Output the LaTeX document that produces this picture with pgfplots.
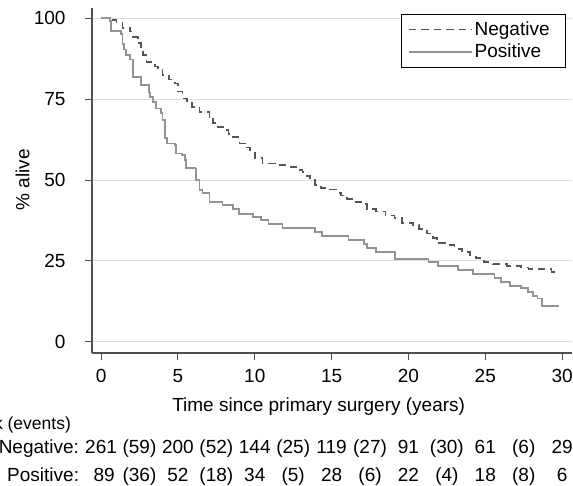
\documentclass[border=0pt]{standalone}
\usepackage{fontspec}
\setmainfont{Liberation Sans}
\usepackage{pgfplots}
\pgfplotsset{compat=1.18}
\definecolor{axgray}{HTML}{505050}
\definecolor{gridgray}{HTML}{DCDCDC}
\definecolor{negcol}{HTML}{555555}
\definecolor{poscol}{HTML}{939393}
\newcommand{\bigfont}{\fontsize{19bp}{22bp}\selectfont}

\begin{document}
\begin{tikzpicture}
\clip (0,0) rectangle (573bp,486bp);
\path[use as bounding box] (0,0) rectangle (573bp,486bp);
\begin{axis}[
    at={(92bp,133bp)}, anchor=south west,
    scale only axis, width=480bp, height=345bp,
    xmin=-0.59, xmax=30.64, ymin=-3.4, ymax=103.1,
    axis x line*=bottom, axis y line*=left,
    axis line style={draw=axgray, line width=1.3bp, -},
    xtick={0,5,...,30}, ytick={0,25,50,75,100},
    tick align=outside, major tick length=7bp,
    tick style={draw=axgray, line width=1bp},
    ymajorgrids, grid style={draw=gridgray, line width=1bp},
    /pgf/number format/assume math mode=true,
    tick label style={font=\bigfont},
    yticklabel style={anchor=east, xshift=-16bp},
    xticklabel style={yshift=-6bp},
    clip=false,
    legend style={at={(1,1)}, anchor=north east, xshift=-6bp, yshift=-6bp,
      draw=black, line width=0.8bp, font=\bigfont, inner xsep=6bp, inner ysep=5.5bp,
      row sep=3bp, cells={anchor=west}, nodes={inner ysep=2bp},
      /tikz/every even column/.append style={column sep=3bp}},
    legend image code/.code={\draw[#1] (0bp,0bp) -- (63bp,0bp);},
]
\addplot[const plot, draw=negcol, line width=1.7bp, dash pattern=on 7.5bp off 5bp] coordinates {
  (0,100) (0.5,99.4) (1.0,98.6) (1.4,97) (1.9,95.8) (2.1,94.2) (2.4,92.2) (2.6,90.1)
  (2.75,88.6) (2.95,86.5) (3.5,85) (3.7,84) (4.0,82.4) (4.4,81) (4.8,79.8) (5.0,77.3)
  (5.3,75.2) (5.6,74) (5.9,72.6) (6.4,70.9) (7.05,69.5) (7.3,67.5) (7.6,66.4) (7.95,65.4)
  (8.3,64.2) (8.6,63.2) (9.0,61.3) (9.4,60) (9.7,58.5) (10.0,56.7) (10.5,55.1) (11.3,54.6)
  (12.2,54.1) (12.7,53.1) (13.1,52.4) (13.4,51.2) (13.6,50) (13.9,48.5) (14.3,47.6)
  (14.9,47.1) (15.3,46) (15.6,45.2) (16.0,44.2) (16.5,43.3) (16.9,42.6) (17.3,41)
  (17.9,40.3) (18.5,39) (19.1,38.2) (19.6,36.8) (20.3,36.1) (20.7,34.9) (21.2,33.5)
  (21.6,32) (21.85,30.5) (22.5,29.9) (23.0,28.8) (23.5,27.8) (24.0,26.8) (24.4,26)
  (24.9,24.6) (25.5,24) (26.4,23.5) (27.3,23) (27.8,22.6) (29.3,21.7) (29.6,21.7)};
\addlegendentry{Negative\hspace*{8bp}}
\addplot[const plot, draw=poscol, line width=1.8bp] coordinates {
  (0,100) (0.6,99) (0.65,96) (1.3,95) (1.4,92) (1.5,90.3) (1.6,88.6) (1.9,87.2)
  (2.1,81.7) (2.6,79.3) (3.1,77) (3.2,75.7) (3.4,74) (3.6,72.1) (3.9,70.6) (4.0,68.5)
  (4.15,63) (4.3,61.3) (4.8,60.8) (4.9,58.2) (5.25,57.7) (5.45,56.2) (5.55,53.6)
  (6.15,53.3) (6.2,50) (6.4,46.9) (6.6,45.9) (7.05,43.3) (7.9,42.3) (8.6,41) (9.0,39.6)
  (9.9,38.7) (10.4,37.7) (10.9,36.4) (11.8,35.2) (13.9,34) (14.4,32.7) (16.1,31.5)
  (17.1,30.2) (17.3,28.9) (17.9,27.9) (19.1,25.6) (21.3,24.8) (21.9,23.5) (23.2,22.2)
  (24.2,20.9) (25.6,19.7) (26.0,18.6) (26.6,17.3) (27.3,16.6) (27.8,15.5) (28.1,14.1)
  (28.4,13.4) (28.7,11.1) (29.8,11.1)};
\addlegendentry{Positive}
% axis titles
\node[font=\bigfont, inner sep=0pt, anchor=base west] at (axis cs:4.62,-21.6) {Time since primary surgery (years)};
\node[font=\bigfont, rotate=90] at (axis cs:-5.1,50) {\% alive};
% number at risk table
\node[font=\fontsize{17.5bp}{20bp}\selectfont, inner sep=0pt, anchor=base east] at (axis cs:-1.95,-27.0) {Number at risk (events)};
\node[font=\bigfont, inner sep=0pt, anchor=base east] at (axis cs:-1.42,-34.57) {Negative:};
\node[font=\bigfont, inner sep=0pt, anchor=base east] at (axis cs:-1.42,-43.2) {Positive:};
\node[font=\bigfont, inner sep=0pt, anchor=base] at (axis cs:0,-34.57) {261};
\node[font=\bigfont, inner sep=0pt, anchor=base] at (axis cs:2.5,-34.57) {(59)};
\node[font=\bigfont, inner sep=0pt, anchor=base] at (axis cs:5,-34.57) {200};
\node[font=\bigfont, inner sep=0pt, anchor=base] at (axis cs:7.5,-34.57) {(52)};
\node[font=\bigfont, inner sep=0pt, anchor=base] at (axis cs:10,-34.57) {144};
\node[font=\bigfont, inner sep=0pt, anchor=base] at (axis cs:12.5,-34.57) {(25)};
\node[font=\bigfont, inner sep=0pt, anchor=base] at (axis cs:15,-34.57) {119};
\node[font=\bigfont, inner sep=0pt, anchor=base] at (axis cs:17.5,-34.57) {(27)};
\node[font=\bigfont, inner sep=0pt, anchor=base] at (axis cs:20,-34.57) {91};
\node[font=\bigfont, inner sep=0pt, anchor=base] at (axis cs:22.5,-34.57) {(30)};
\node[font=\bigfont, inner sep=0pt, anchor=base] at (axis cs:25,-34.57) {61};
\node[font=\bigfont, inner sep=0pt, anchor=base] at (axis cs:27.5,-34.57) {(6)};
\node[font=\bigfont, inner sep=0pt, anchor=base] at (axis cs:30,-34.57) {29};
\node[font=\bigfont, inner sep=0pt, anchor=base] at (axis cs:0.2,-43.2) {89};
\node[font=\bigfont, inner sep=0pt, anchor=base] at (axis cs:2.5,-43.2) {(36)};
\node[font=\bigfont, inner sep=0pt, anchor=base] at (axis cs:5,-43.2) {52};
\node[font=\bigfont, inner sep=0pt, anchor=base] at (axis cs:7.5,-43.2) {(18)};
\node[font=\bigfont, inner sep=0pt, anchor=base] at (axis cs:10,-43.2) {34};
\node[font=\bigfont, inner sep=0pt, anchor=base] at (axis cs:12.5,-43.2) {(5)};
\node[font=\bigfont, inner sep=0pt, anchor=base] at (axis cs:15,-43.2) {28};
\node[font=\bigfont, inner sep=0pt, anchor=base] at (axis cs:17.5,-43.2) {(6)};
\node[font=\bigfont, inner sep=0pt, anchor=base] at (axis cs:20,-43.2) {22};
\node[font=\bigfont, inner sep=0pt, anchor=base] at (axis cs:22.5,-43.2) {(4)};
\node[font=\bigfont, inner sep=0pt, anchor=base] at (axis cs:25,-43.2) {18};
\node[font=\bigfont, inner sep=0pt, anchor=base] at (axis cs:27.5,-43.2) {(8)};
\node[font=\bigfont, inner sep=0pt, anchor=base] at (axis cs:30,-43.2) {6};
\end{axis}
\end{tikzpicture}
\end{document}
